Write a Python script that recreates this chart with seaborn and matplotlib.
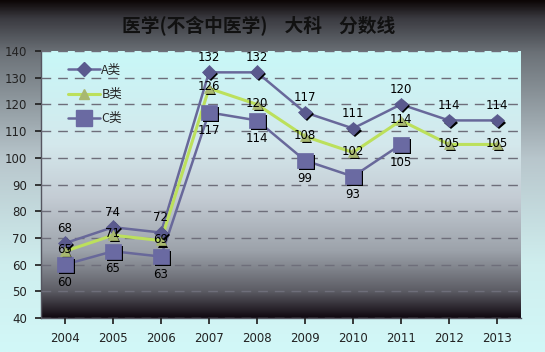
import numpy as np
import pandas as pd
import matplotlib
matplotlib.use("Agg")
import matplotlib.pyplot as plt
import matplotlib.patheffects as pe
from matplotlib.colors import LinearSegmentedColormap
import seaborn as sns

years = ["2004", "2005", "2006", "2007", "2008", "2009", "2010", "2011", "2012", "2013"]
a_vals = [68, 74, 72, 132, 132, 117, 111, 120, 114, 114]
b_vals = [65, 71, 69, 126, 120, 108, 102, 114, 105, 105]
c_vals = [60, 65, 63, 117, 114, 99, 93, 105, None, None]
series_names = ["A类", "B类", "C类"]
title = "医学(不含中医学)    大科    分数线"

sns.set_theme(style="white")
plt.rcParams["font.family"] = ["Noto Sans CJK SC", "DejaVu Sans"]

fig = plt.figure(figsize=(5.45, 3.52), dpi=100)

# figure background gradient
bg = fig.add_axes([0, 0, 1, 1], zorder=-10)
bg_cmap = LinearSegmentedColormap.from_list(
    "bg", [(0.0, "#0c0606"), (0.05, "#3a3a40"), (0.15, "#6c7278"),
           (0.45, "#b8c6cc"), (0.75, "#cfeeee"), (1.0, "#d2f8f8")])
grad = np.linspace(0, 1, 256).reshape(-1, 1)
bg.imshow(grad, aspect="auto", cmap=bg_cmap, extent=[0, 1, 0, 1], origin="upper")
bg.set_xlim(0, 1); bg.set_ylim(0, 1)
bg.axis("off")

ax = fig.add_axes([41/545, 34/352, 480/545, 267/352])
pa_cmap = LinearSegmentedColormap.from_list(
    "pa", [(0.0, "#c8f8f8"), (0.35, "#d4e8ec"), (0.55, "#c4ccd4"),
           (0.75, "#9ca2aa"), (0.9, "#5c5c64"), (1.0, "#100810")])
ax.imshow(grad, aspect="auto", cmap=pa_cmap, extent=[-0.5, 9.5, 40, 140],
          origin="upper", zorder=0)

x = np.arange(len(years))
df = pd.DataFrame({"x": np.tile(x, 3),
                   "score": a_vals + b_vals + c_vals,
                   "series": np.repeat(series_names, len(years))})

line_cols = {"A类": "#68689a", "B类": "#bce05c", "C类": "#68689a"}
mk = {"A类": "D", "B类": "^", "C类": "s"}
mk_face = {"A类": "#5a5a8e", "B类": "#a8b870", "C类": "#6a6aa2"}
mk_size = {"A类": 7, "B类": 7, "C类": 11}
lw = {"A类": 1.8, "B类": 2.2, "C类": 1.8}

shadow = [pe.SimplePatchShadow(offset=(1.5, -1.5), shadow_rgbFace="black", alpha=1.0),
          pe.Normal()]

for name in series_names:
    sub = df[df["series"] == name].dropna()
    sns.lineplot(data=sub, x="x", y="score", ax=ax, color=line_cols[name],
                 linewidth=lw[name], sort=False, zorder=3, legend=False)
    ax.plot(sub["x"], sub["score"], linestyle="none", marker=mk[name],
            markersize=mk_size[name], markerfacecolor=mk_face[name],
            markeredgecolor=mk_face[name], markeredgewidth=0.5,
            zorder=4, path_effects=shadow)

# legend proxies
handles = []
for name in series_names:
    h, = ax.plot([], [], color=line_cols[name], linewidth=lw[name], marker=mk[name],
                 markersize=mk_size[name], markerfacecolor=mk_face[name],
                 markeredgecolor=mk_face[name])
    handles.append(h)
leg = ax.legend(handles, series_names, loc="upper left", bbox_to_anchor=(0.04, 0.98),
                frameon=False, fontsize=9, handlelength=2.6, labelspacing=0.9,
                handletextpad=0.1, borderaxespad=0.2)

# data labels
for xi, v in zip(x, a_vals):
    ax.annotate(str(v), (xi, v), xytext=(0, 6), textcoords="offset points",
                ha="center", va="bottom", fontsize=8.5, color="black",
                family="DejaVu Sans", zorder=6)
for xi, v in zip(x, b_vals):
    ax.annotate(str(v), (xi, v), xytext=(0, 1), textcoords="offset points",
                ha="center", va="center", fontsize=8.5, color="black",
                family="DejaVu Sans", zorder=6)
for xi, v in zip(x, c_vals):
    if v is None:
        continue
    ax.annotate(str(v), (xi, v), xytext=(0, -8), textcoords="offset points",
                ha="center", va="top", fontsize=8.5, color="black",
                family="DejaVu Sans", zorder=6)

ax.set_xlim(-0.5, 9.5)
ax.set_ylim(40, 140)
ax.set_yticks(range(40, 141, 10))
ax.set_xticks(x)
ax.set_xticklabels(years)
ax.yaxis.grid(True, linestyle=(0, (7, 5)), color="#6e6e7a", linewidth=1.0, zorder=1)
ax.set_axisbelow(False)
for gl in ax.get_ygridlines():
    gl.set_zorder(1)
ax.tick_params(axis="both", labelsize=8.5, colors="#222222", length=4, direction="out",
               bottom=True, left=True, pad=6)
for lab in ax.get_xticklabels() + ax.get_yticklabels():
    lab.set_family("DejaVu Sans")
ax.set_xlabel("")
ax.set_ylabel("")
for side in ["top", "right"]:
    ax.spines[side].set_visible(False)
for side in ["left", "bottom"]:
    ax.spines[side].set_color("#555560")
    ax.spines[side].set_linewidth(1.0)

fig.text(0.475, 0.925, title, ha="center", va="center", fontsize=13.5,
         fontweight="bold", color="#111111")

fig.savefig("out.png", dpi=100)
